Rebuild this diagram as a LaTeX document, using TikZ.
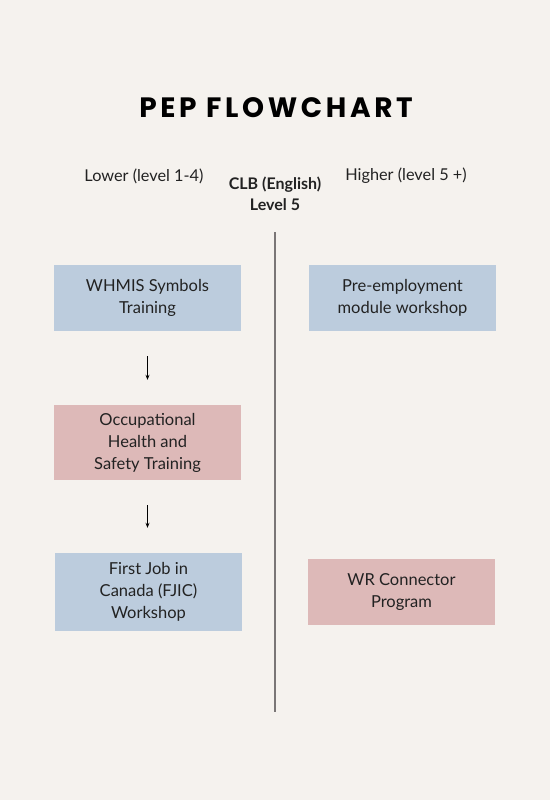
\documentclass[tikz,border=0pt]{standalone}
\usepackage{fontspec}
\setmainfont{Lato}
\newfontfamily\titlefont[LetterSpace=13]{Poppins}
\usetikzlibrary{arrows.meta}
\definecolor{bg}{HTML}{F5F2EE}
\definecolor{boxblue}{HTML}{BCCCDD}
\definecolor{boxpink}{HTML}{DDB9B8}
\definecolor{txt}{HTML}{222222}
\definecolor{divider}{HTML}{7A7676}
\tikzset{
  box/.style={rectangle, minimum width=187pt, align=center, text=txt,
    font=\fontsize{16.5}{22}\selectfont, inner sep=0pt},
  bluebox/.style={box, fill=boxblue},
  pinkbox/.style={box, fill=boxpink},
  flowarrow/.style={-{Stealth[length=5pt,width=4pt]}, line width=0.9pt, black,
    shorten <=25pt, shorten >=25pt},
  colhead/.style={text=txt, font=\fontsize{16.3}{19}\selectfont, inner sep=0pt},
}
\begin{document}
\begin{tikzpicture}[x=1pt,y=-1pt]
\fill[bg] (0,0) rectangle (550,800);
\useasboundingbox (0,0) rectangle (550,800);

\node[font=\titlefont\bfseries\fontsize{28}{32}\selectfont, inner sep=0pt] (title) at (276,108) {PEP FLOWCHART};

\node[colhead] (lower) at (144,176) {Lower (level 1-4)};
\node[colhead] (higher) at (406,176) {Higher (level 5 +)};
\node[align=center, font=\bfseries\fontsize{16}{21.5}\selectfont, text=txt, inner sep=0pt] (clb) at (275,194) {CLB (English)\\Level 5};

\coordinate (divtop) at (275,232);
\coordinate (divbot) at (275,712);
\draw[divider, line width=1.8pt] (divtop) -- (divbot);

\node[bluebox, minimum height=66pt] (whmis) at (147.5,298) {WHMIS Symbols\\Training};
\node[pinkbox, minimum height=75pt] (ohs) at (147.5,442.5) {Occupational\\Health and\\Safety Training};
\node[bluebox, minimum height=78pt] (fjic) at (148.5,592) {First Job in\\Canada (FJIC)\\Workshop};

\node[bluebox, minimum height=66pt] (pre) at (402.5,298) {Pre-employment\\module workshop};
\node[pinkbox, minimum height=66pt] (wr) at (401.5,592) {WR Connector\\Program};

\draw[flowarrow] (whmis.south) -- (ohs.north);
\draw[flowarrow] (ohs.south) -- (ohs.south |- fjic.north);
\end{tikzpicture}
\end{document}
